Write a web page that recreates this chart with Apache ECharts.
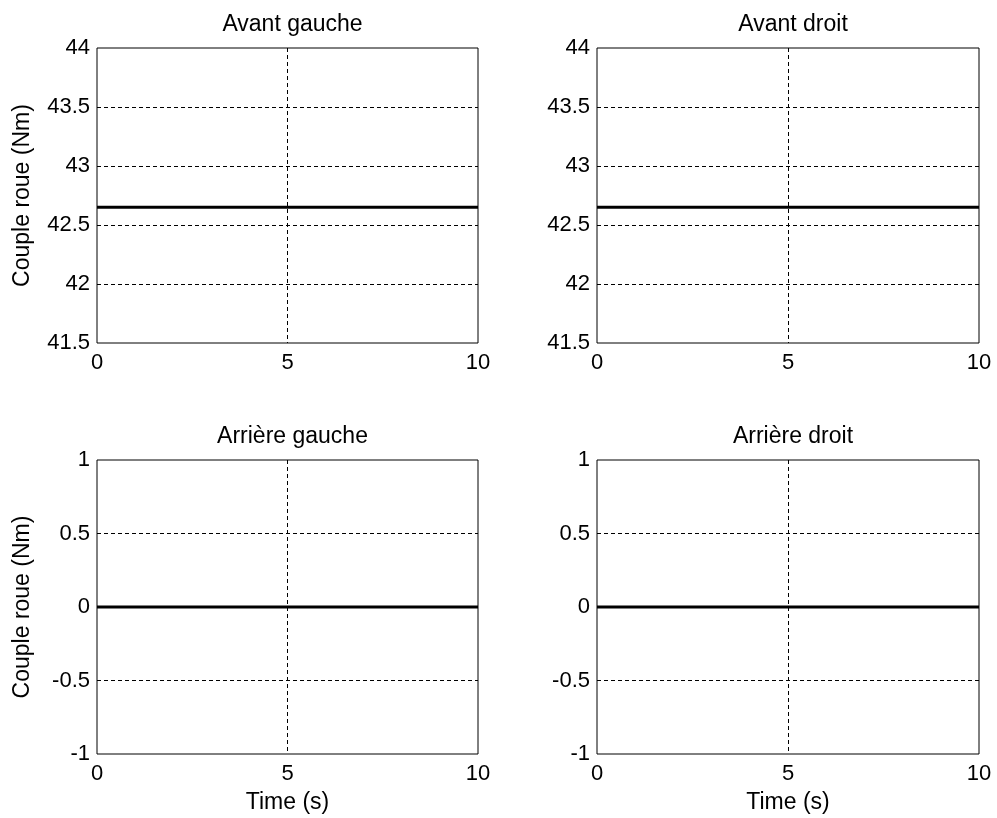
<!DOCTYPE html>
<html>
<head>
<meta charset="utf-8">
<script src="https://cdn.jsdelivr.net/npm/echarts@6/dist/echarts.min.js"></script>
<style>html,body{margin:0;padding:0;background:#fff}#c{width:997px;height:818px}</style>
</head>
<body>
<div id="c"></div>
<script>
const titles = ['Avant gauche', 'Avant droit', 'Arrière gauche', 'Arrière droit'];
const time = [0, 10];
const avantGauche = [42.65, 42.65];
const avantDroit = [42.65, 42.65];
const arriereGauche = [0, 0];
const arriereDroit = [0, 0];
const yLabel = 'Couple roue (Nm)';
const xLabel = 'Time (s)';
const xTicks = [0, 5, 10];
const yRangeTop = [41.5, 44, 0.5];
const yRangeBottom = [-1, 1, 0.5];

const chart = echarts.init(document.getElementById('c'));
const FONT = 'Liberation Sans, Arial, sans-serif';
const grids = [
  {left: 97, top: 48, width: 381, height: 295},
  {left: 597, top: 48, width: 382, height: 295},
  {left: 97, top: 460, width: 381, height: 294},
  {left: 597, top: 460, width: 382, height: 294}
];
const seriesData = [avantGauche, avantDroit, arriereGauche, arriereDroit];
const dash = {color: '#000', width: 1, type: [4, 3]};

const option = {
  animation: false,
  backgroundColor: '#fff',
  title: titles.map((t, i) => ({
    text: t,
    left: grids[i].left + grids[i].width / 2,
    top: i < 2 ? 8 : 420,
    textAlign: 'center',
    textStyle: {fontFamily: FONT, fontSize: 23, fontWeight: 'normal', color: '#000'}
  })),
  grid: grids.map(g => Object.assign({show: true, borderColor: '#000', borderWidth: 1, backgroundColor: '#fff'}, g)),
  xAxis: grids.map((g, i) => ({
    type: 'value', gridIndex: i, min: xTicks[0], max: xTicks[xTicks.length - 1], interval: xTicks[1] - xTicks[0],
    name: i >= 2 ? xLabel : '', nameLocation: 'middle', nameGap: 37,
    nameTextStyle: {fontFamily: FONT, fontSize: 23, color: '#000'},
    axisLine: {show: false}, axisTick: {show: false},
    axisLabel: {fontFamily: FONT, fontSize: 22, color: '#000', margin: 9},
    splitLine: {show: true, showMinLine: false, showMaxLine: false, lineStyle: dash}
  })),
  yAxis: grids.map((g, i) => {
    const r = i < 2 ? yRangeTop : yRangeBottom;
    return {
      type: 'value', gridIndex: i, min: r[0], max: r[1], interval: r[2],
      name: (i % 2 === 0) ? yLabel : '', nameLocation: 'middle', nameGap: 63,
      nameTextStyle: {fontFamily: FONT, fontSize: 23, color: '#000'},
      axisLine: {show: false}, axisTick: {show: false},
      axisLabel: {fontFamily: FONT, fontSize: 22, color: '#000', margin: 7},
      splitLine: {show: true, showMinLine: false, showMaxLine: false, lineStyle: dash}
    };
  }),
  series: seriesData.map((d, i) => ({
    type: 'line', xAxisIndex: i, yAxisIndex: i, symbol: 'none',
    lineStyle: {color: '#000', width: 3},
    data: time.map((t, k) => [t, d[k]])
  }))
};
chart.setOption(option);
</script>
</body>
</html>
